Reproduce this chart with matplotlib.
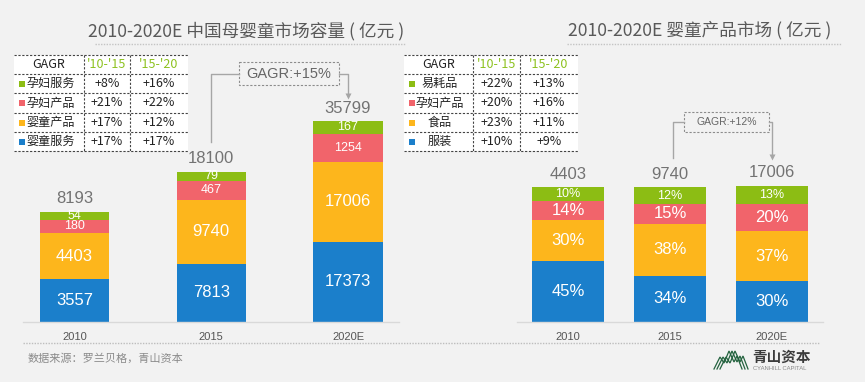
import numpy as np
import matplotlib
matplotlib.use('Agg')
import matplotlib.pyplot as plt
from matplotlib.patches import Rectangle

# ---------------- data ----------------
years = ['2010', '2015', '2020E']

# left chart: 中国母婴童市场容量 (亿元), stacked bottom -> top
baby_service = [3557, 7813, 17373]      # 婴童服务
baby_products = [4403, 9740, 17006]     # 婴童产品
maternal_products = [180, 467, 1254]    # 孕妇产品
maternal_service = [54, 79, 167]        # 孕妇服务
market_totals = [8193, 18100, 35799]

left_table_rows = ['孕妇服务', '孕妇产品', '婴童产品', '婴童服务']
left_cagr_10_15 = ['+8%', '+21%', '+17%', '+17%']
left_cagr_15_20 = ['+16%', '+22%', '+12%', '+17%']
left_overall = 'GAGR:+15%'

# right chart: 婴童产品市场 share (%), stacked bottom -> top
clothing_pct = [45, 34, 30]      # 服装
food_pct = [30, 38, 37]          # 食品
maternal_pct = [14, 15, 20]      # 孕妇产品
consumables_pct = [10, 12, 13]   # 易耗品
product_totals = [4403, 9740, 17006]

right_table_rows = ['易耗品', '孕妇产品', '食品', '服装']
right_cagr_10_15 = ['+22%', '+20%', '+23%', '+10%']
right_cagr_15_20 = ['+13%', '+16%', '+11%', '+9%']
right_overall = 'GAGR:+12%'

table_headers = ['GAGR', "'10-'15", "'15-'20"]

# ---------------- style ----------------
BG = '#f2f2f2'
BLUE = '#1b7fcb'
YELLOW = '#fdb61c'
RED = '#f1646b'
GREEN = '#8cbd14'
HEAD_GREEN = '#8dc21f'
GREY_TXT = '#737373'
CJK = ['Noto Sans CJK SC', 'DejaVu Sans']
plt.rcParams['font.family'] = ['Liberation Sans', 'Noto Sans CJK SC', 'DejaVu Sans']

W, H = 865, 382
fig = plt.figure(figsize=(W / 100, H / 100), dpi=100, facecolor=BG)


def px_rect(x0, y0, x1, y1):
    return [x0 / W, (H - y1) / H, (x1 - x0) / W, (y1 - y0) / H]


# overlay axes in pixel coordinates for decorations
ax0 = fig.add_axes([0, 0, 1, 1])
ax0.set_xlim(0, W)
ax0.set_ylim(H, 0)
ax0.axis('off')
ax0.set_zorder(0)

BASE = 322  # baseline pixel row

# ---------------- left stacked bars ----------------
# the original compresses the bars visually; heights use value**0.4
K_LEFT = 1.62
LX0, LX1 = 23, 399
LXLIM = (-0.377, 2.373)
axL = fig.add_axes(px_rect(LX0, 20, LX1, BASE))
axL.set_zorder(1)
axL.patch.set_alpha(0)
axL.set_xlim(*LXLIM)
axL.set_ylim(0, (BASE - 20) / K_LEFT)

left_series = [baby_service, baby_products, maternal_products, maternal_service]
left_colors = [BLUE, YELLOW, RED, GREEN]
left_fs = [12, 12, 9, 9]
x = np.arange(len(years))
bottom = np.zeros(len(years))
for vals, col, fs in zip(left_series, left_colors, left_fs):
    h = np.array(vals, dtype=float) ** 0.4
    axL.bar(x, h, bottom=bottom, width=0.505, color=col, linewidth=0)
    for xi, b, hi, v in zip(x, bottom, h, vals):
        axL.text(xi, b + hi / 2, f'{v}', ha='center', va='center',
                 fontsize=fs, color='white')
    bottom = bottom + h
left_tops = bottom.copy()
for xi, t, tot in zip(x, left_tops, market_totals):
    axL.annotate(f'{tot}', (xi, t), xytext=(0, 4), textcoords='offset points',
                 ha='center', va='bottom', fontsize=12, color=GREY_TXT)

# ---------------- right stacked bars ----------------
K_RIGHT = 1.36
RX0, RX1 = 517, 823
RXLIM = (-0.5, 2.5)
axR = fig.add_axes(px_rect(RX0, 20, RX1, BASE))
axR.set_zorder(1)
axR.patch.set_alpha(0)
axR.set_xlim(*RXLIM)
axR.set_ylim(0, (BASE - 20) / K_RIGHT)

right_series = [clothing_pct, food_pct, maternal_pct, consumables_pct]
right_fs = [12, 12, 12, 9]
bottom = np.zeros(len(years))
for vals, col, fs in zip(right_series, left_colors, right_fs):
    h = np.array(vals, dtype=float)
    axR.bar(x, h, bottom=bottom, width=0.706, color=col, linewidth=0)
    for xi, b, hi, v in zip(x, bottom, h, vals):
        axR.text(xi, b + hi / 2, f'{v}%', ha='center', va='center',
                 fontsize=fs, color='white')
    bottom = bottom + h
right_tops = bottom.copy()
for xi, t, tot in zip(x, right_tops, product_totals):
    axR.annotate(f'{tot}', (xi, t), xytext=(0, 4), textcoords='offset points',
                 ha='center', va='bottom', fontsize=12, color=GREY_TXT)

for ax in (axL, axR):
    ax.set_xticks(x, years)
    ax.tick_params(axis='x', length=0, pad=7, labelsize=8, labelcolor='#555555')
    ax.tick_params(axis='y', left=False, labelleft=False)
    for s in ('top', 'left', 'right'):
        ax.spines[s].set_visible(False)
    ax.spines['bottom'].set_color('#d9d9d9')
    ax.spines['bottom'].set_linewidth(1)


def cx_px(i, xlim, x0, x1):
    return x0 + (i - xlim[0]) / (xlim[1] - xlim[0]) * (x1 - x0)


# ---------------- titles ----------------
ax0.text(246, 31, '2010-2020E 中国母婴童市场容量 ( 亿元 )', ha='center', va='center',
         fontsize=12.7, color='#595959', family=CJK)
ax0.text(700, 30, '2010-2020E 婴童产品市场 ( 亿元 )', ha='center', va='center',
         fontsize=12.7, color='#595959', family=CJK)
dot = (0, (1, 1))
ax0.plot([95, 405], [44, 44], color='#c4c4c4', lw=1, ls=dot)
ax0.plot([567, 842], [44, 44], color='#c4c4c4', lw=1, ls=dot)
ax0.plot([23, 820], [343, 343], color='#bdbdbd', lw=1, ls=dot)

# ---------------- tables ----------------
ROWS_Y = [55, 74, 93, 113, 132, 151]
marker_cols = [GREEN, RED, YELLOW, BLUE]
dash = (0, (2, 1.5))
TFS = 9


def draw_table(cols, labels, c1, c2, marker_x, label_x, label_ha):
    ax0.add_patch(Rectangle((cols[0], ROWS_Y[0]), cols[-1] - cols[0],
                            ROWS_Y[-1] - ROWS_Y[0], fc='white', ec='none'))
    for y in ROWS_Y:
        ax0.plot([cols[0], cols[-1]], [y, y], color='#444444', lw=0.8, ls=dash)
    for cx in cols[1:-1]:
        ax0.plot([cx, cx], [ROWS_Y[0], ROWS_Y[-1]], color='#444444', lw=0.8, ls=dash)
    mids = [(a + b) / 2 for a, b in zip(ROWS_Y[:-1], ROWS_Y[1:])]
    col_mid = [(a + b) / 2 for a, b in zip(cols[:-1], cols[1:])]
    ax0.text(col_mid[0], mids[0], table_headers[0], ha='center', va='center',
             fontsize=TFS, color='#222222', family=CJK)
    ax0.text(col_mid[1], mids[0], table_headers[1], ha='center', va='center',
             fontsize=TFS, color=HEAD_GREEN, family=CJK)
    ax0.text(col_mid[2], mids[0], table_headers[2], ha='center', va='center',
             fontsize=TFS, color=HEAD_GREEN, family=CJK)
    for i, (lab, a, b) in enumerate(zip(labels, c1, c2)):
        y = mids[i + 1]
        ax0.add_patch(Rectangle((marker_x, y - 3), 6, 6, fc=marker_cols[i], ec='none'))
        ax0.text(label_x, y, lab, ha=label_ha, va='center', fontsize=8.7,
                 color='#222222', family=CJK)
        ax0.text(col_mid[1], y, a, ha='center', va='center', fontsize=TFS,
                 color='#222222', family=CJK)
        ax0.text(col_mid[2], y, b, ha='center', va='center', fontsize=TFS,
                 color='#222222', family=CJK)


draw_table([14, 84, 130, 188], left_table_rows, left_cagr_10_15, left_cagr_15_20,
           18.5, 26, 'left')
draw_table([404, 473, 520, 578], right_table_rows, right_cagr_10_15, right_cagr_15_20,
           409, 440, 'center')

# ---------------- GAGR connectors ----------------
CONN = '#a6a6a6'


def gagr(text, box, fs, x_from, y_from, x_to, y_to):
    bx0, by0, bx1, by1 = box
    ym = (by0 + by1) / 2
    ax0.add_patch(Rectangle((bx0, by0), bx1 - bx0, by1 - by0, fc='none',
                            ec='#8c8c8c', lw=0.8, ls=dash))
    ax0.text((bx0 + bx1) / 2, ym, text, ha='center', va='center', fontsize=fs,
             color='#666666')
    ax0.plot([x_from, x_from, bx0], [y_from, ym, ym], color=CONN, lw=1)
    ax0.plot([bx1, x_to, x_to], [ym, ym, y_to], color=CONN, lw=1)
    ax0.plot([x_to], [y_to + 1], marker='v', ms=4, color=CONN, mec='none')


l15 = cx_px(1, LXLIM, LX0, LX1)
l20 = cx_px(2, LXLIM, LX0, LX1)
top15_px = BASE - K_LEFT * left_tops[1]
top20_px = BASE - K_LEFT * left_tops[2]
gagr(left_overall, (239, 62, 339, 85), 10.5, l15, top15_px - 30, l20, top20_px - 26)

r15 = cx_px(1, RXLIM, RX0, RX1)
r20 = cx_px(2, RXLIM, RX0, RX1)
rtop15 = BASE - K_RIGHT * right_tops[1]
rtop20 = BASE - K_RIGHT * right_tops[2]
gagr(right_overall, (684, 112, 769, 132), 7.5, r15 + 3, rtop15 - 29, r20, rtop20 - 30)

# ---------------- footer ----------------
ax0.text(28, 358, '数据来源：罗兰贝格，青山资本', ha='left', va='center', fontsize=8,
         color='#8a8a8a', family=CJK)

# logo: zigzag mountain outline drawn as parallel strokes
LOGO = '#24633f'
zig_x = np.array([714, 720, 724, 729, 734, 737, 742])
zig_y = np.array([369, 357, 363, 351, 362, 356, 369])
for off in (0, 3, 6):
    ax0.plot(zig_x + off, zig_y, color=LOGO, lw=0.9, solid_joinstyle='miter')
ax0.text(752, 357, '青山资本', ha='left', va='center', fontsize=10.5,
         fontweight='bold', color='#3c3c3c', family=CJK)
ax0.text(753, 369, 'CYANHILL CAPITAL', ha='left', va='center', fontsize=4.2,
         color='#8a8a8a')

fig.savefig('out.png', dpi=100, facecolor=BG)
